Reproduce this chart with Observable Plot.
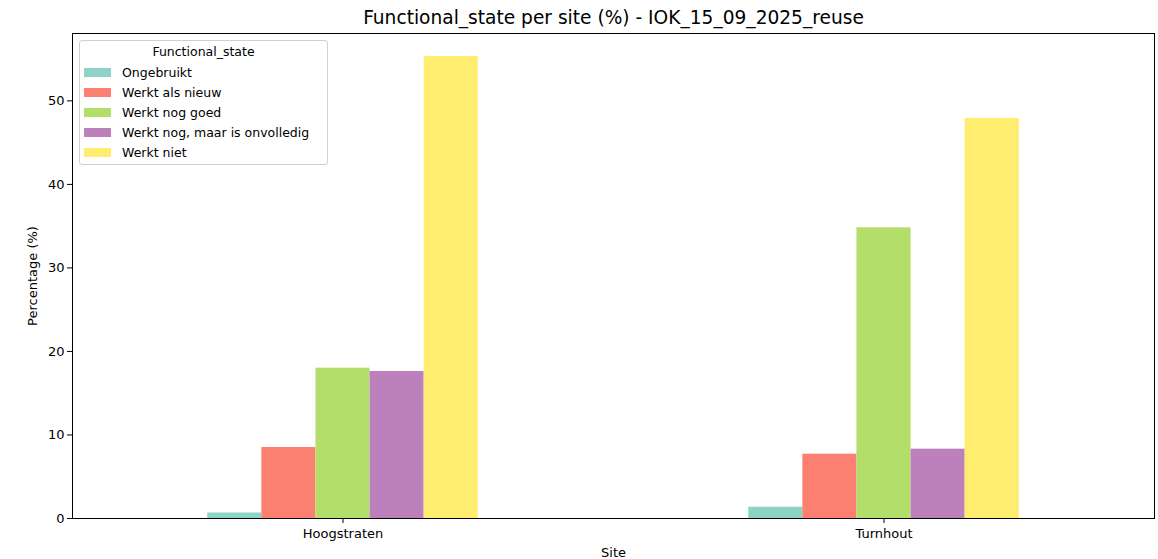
<!DOCTYPE html>
<html>
<head>
<meta charset="utf-8">
<script src="https://cdn.jsdelivr.net/npm/d3@7"></script>
<script src="https://cdn.jsdelivr.net/npm/@observablehq/plot@0.6"></script>
<style>
  html, body { margin: 0; padding: 0; background: #fff; }
  #wrap { position: relative; width: 1158px; height: 559px; font-family: "DejaVu Sans", sans-serif; }
  #legend {
    position: absolute; left: 79px; top: 40px; width: 247px; height: 123px;
    border: 1px solid #d0d0d0; border-radius: 3px; background: rgba(255,255,255,0.8);
    font-size: 12.5px; color: #000; box-sizing: content-box;
  }
  #legend .title { position: absolute; left: 0; right: 0; top: 3px; text-align: center; }
  #legend .row { position: absolute; left: 4px; height: 20px; display: flex; align-items: center; }
  #legend .sw { width: 27px; height: 9px; margin-right: 11px; }
</style>
</head>
<body>
<div id="wrap"><div id="legend"></div></div>
<script>
const titleText = "Functional_state per site (%) - IOK_15_09_2025_reuse";
const sites = ["Hoogstraten", "Turnhout"];
const states = ["Ongebruikt", "Werkt als nieuw", "Werkt nog goed", "Werkt nog, maar is onvolledig", "Werkt niet"];
const hoogstraten = [0.66, 8.5, 18.0, 17.6, 55.3];
const turnhout = [1.35, 7.7, 34.8, 8.3, 47.9];
const colors = ["#8dd3c7", "#fb8072", "#b3de69", "#bc80bd", "#ffed6f"];
const yTicks = [0, 10, 20, 30, 40, 50];
const legendTitle = "Functional_state";

const seriesBySite = [hoogstraten, turnhout];
const data = sites.flatMap((s, i) => states.map((st, j) => ({site: s, si: i, state: st, sj: j, value: seriesBySite[i][j]})));
const yMax = d3.max(data, d => d.value) * 1.05;
const barW = 0.5 / states.length;

const chart = Plot.plot({
  width: 1158,
  height: 559,
  marginLeft: 72,
  marginRight: 4,
  marginTop: 33,
  marginBottom: 41,
  style: {fontFamily: "DejaVu Sans, sans-serif", fontSize: "13px", color: "#000", background: "#fff"},
  x: {domain: [-0.5, sites.length - 0.5]},
  y: {domain: [0, yMax]},
  color: {domain: states, range: colors},
  marks: [
    Plot.rect(data, {
      x1: d => d.si - 0.25 + d.sj * barW,
      x2: d => d.si - 0.25 + (d.sj + 1) * barW,
      y1: 0,
      y2: "value",
      fill: "state"
    }),
    Plot.frame({stroke: "#000", strokeWidth: 1}),
    Plot.axisX({ticks: sites.map((_, i) => i), tickFormat: i => sites[i], tickSize: 5, tickPadding: 5,
      label: "Site", labelAnchor: "center", labelArrow: "none", labelOffset: 38, fontSize: 13}),
    Plot.axisY({ticks: yTicks, tickFormat: d => String(d), tickSize: 5, tickPadding: 3,
      label: "Percentage (%)", labelAnchor: "center", labelArrow: "none", labelOffset: 45, fontSize: 13}),
    Plot.text([titleText], {frameAnchor: "top", dy: -15, text: d => d, fontSize: 18.6, lineAnchor: "middle"})
  ]
});
document.getElementById("wrap").prepend(chart);

const legend = document.getElementById("legend");
const t = document.createElement("div");
t.className = "title";
t.textContent = legendTitle;
legend.appendChild(t);
states.forEach((s, j) => {
  const row = document.createElement("div");
  row.className = "row";
  row.style.top = (21 + j * 20.2) + "px";
  const sw = document.createElement("div");
  sw.className = "sw";
  sw.style.background = colors[j];
  const lab = document.createElement("span");
  lab.textContent = s;
  row.appendChild(sw);
  row.appendChild(lab);
  legend.appendChild(row);
});
</script>
</body>
</html>
